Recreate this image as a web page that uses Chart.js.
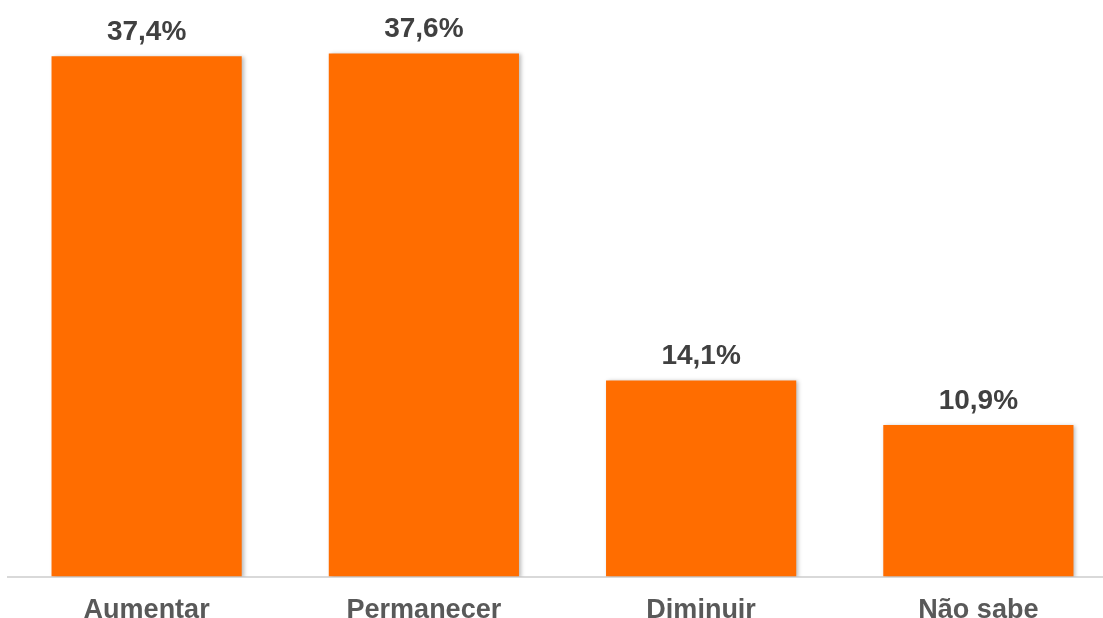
<!DOCTYPE html>
<html>
<head>
<meta charset="utf-8">
<script src="https://cdn.jsdelivr.net/npm/chart.js@4.4.0/dist/chart.umd.min.js"></script>
<style>
  html, body { margin:0; padding:0; background:#fff; overflow:hidden; }
  #wrap { position:relative; width:1117px; height:645px; }
</style>
</head>
<body>
<div id="wrap"><canvas id="barChart"></canvas></div>
<script>
const categories = ['Aumentar', 'Permanecer', 'Diminuir', 'Não sabe'];
const values = [37.4, 37.6, 14.1, 10.9];
const barColor = '#ff6d00';

// value labels above each bar, pt-BR decimal comma
const valueLabels = {
  id: 'valueLabels',
  afterDatasetsDraw(chart) {
    const ctx = chart.ctx;
    const meta = chart.getDatasetMeta(0);
    ctx.save();
    ctx.font = 'bold 28px "Liberation Sans", Arial, sans-serif';
    ctx.fillStyle = '#404040';
    ctx.textAlign = 'center';
    ctx.textBaseline = 'alphabetic';
    meta.data.forEach((bar, i) => {
      const txt = values[i].toFixed(1).replace('.', ',') + '%';
      ctx.fillText(txt, bar.x, bar.y - 16);
    });
    ctx.restore();
  }
};

// soft drop shadow on the bars
const barShadow = {
  id: 'barShadow',
  beforeDatasetDraw(chart) {
    const ctx = chart.ctx;
    ctx.save();
    ctx.shadowColor = 'rgba(0,0,0,0.28)';
    ctx.shadowBlur = 4;
    ctx.shadowOffsetX = 2;
    ctx.shadowOffsetY = 1;
  },
  afterDatasetDraw(chart) {
    chart.ctx.restore();
  }
};

new Chart(document.getElementById('barChart').getContext('2d'), {
  type: 'bar',
  data: {
    labels: categories,
    datasets: [{ data: values, backgroundColor: barColor, borderWidth: 0,
                 categoryPercentage: 1, barPercentage: 0.686 }]
  },
  options: {
    responsive: true,
    maintainAspectRatio: false,
    animation: false,
    layout: { padding: { left: 8, right: 0, top: 20, bottom: 0 } },
    plugins: { legend: { display: false }, tooltip: { enabled: false } },
    scales: {
      x: {
        grid: { display: false, drawTicks: false },
        border: { display: true, color: '#d9d9d9', width: 2 },
        ticks: { color: '#595959', padding: 18,
                 font: { family: '"Liberation Sans", Arial, sans-serif', size: 27, weight: 'bold' } }
      },
      y: {
        display: false,
        min: 0, max: 40
      }
    }
  },
  plugins: [barShadow, valueLabels]
});
</script>
</body>
</html>
